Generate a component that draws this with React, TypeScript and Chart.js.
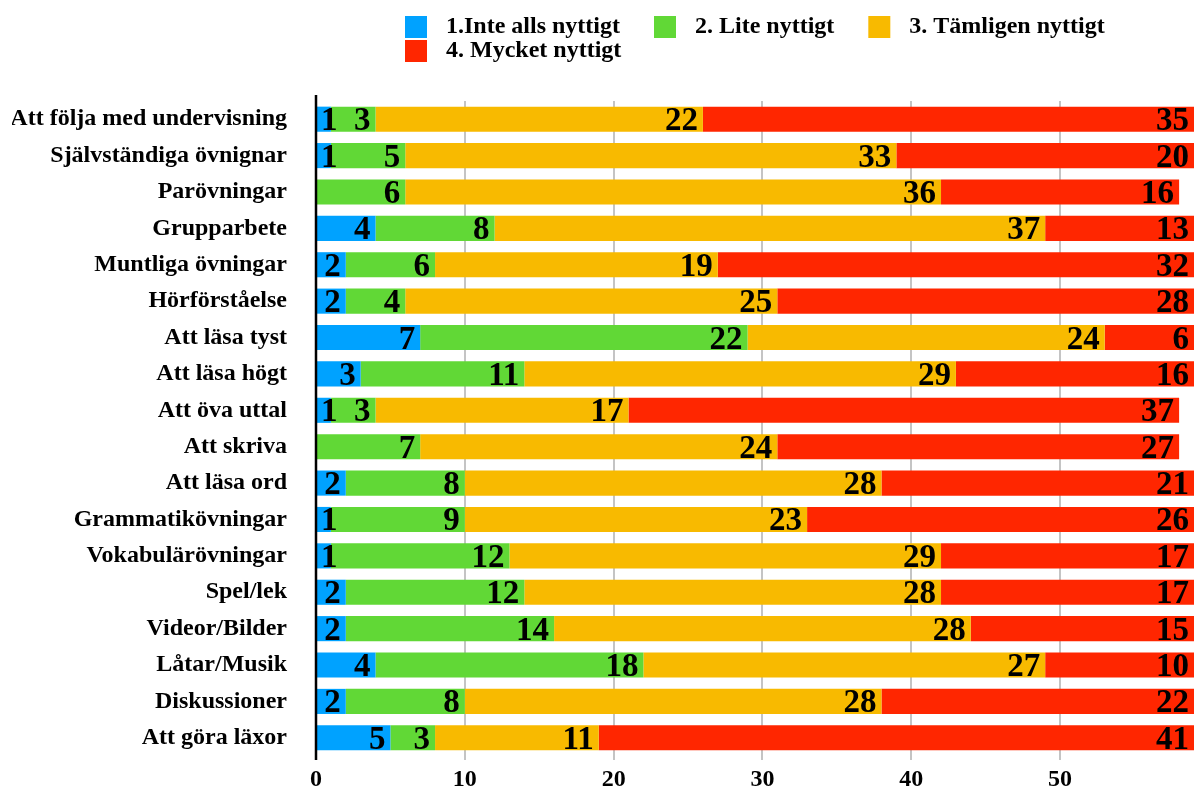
import React, { useEffect, useRef } from "react";
import { Chart, registerables } from "chart.js";

Chart.register(...registerables);

const categories = [
  "Att följa med undervisning",
  "Självständiga övnignar",
  "Parövningar",
  "Grupparbete",
  "Muntliga övningar",
  "Hörförståelse",
  "Att läsa tyst",
  "Att läsa högt",
  "Att öva uttal",
  "Att skriva",
  "Att läsa ord",
  "Grammatikövningar",
  "Vokabulärövningar",
  "Spel/lek",
  "Videor/Bilder",
  "Låtar/Musik",
  "Diskussioner",
  "Att göra läxor",
];

const seriesNames = [
  "1.Inte alls nyttigt",
  "2. Lite nyttigt",
  "3. Tämligen nyttigt",
  "4. Mycket nyttigt",
];

const inteAlls = [1, 1, 0, 4, 2, 2, 7, 3, 1, 0, 2, 1, 1, 2, 2, 4, 2, 5];
const lite = [3, 5, 6, 8, 6, 4, 22, 11, 3, 7, 8, 9, 12, 12, 14, 18, 8, 3];
const tamligen = [22, 33, 36, 37, 19, 25, 24, 29, 17, 24, 28, 23, 29, 28, 28, 27, 28, 11];
const mycket = [35, 20, 16, 13, 32, 28, 6, 16, 37, 27, 21, 26, 17, 17, 15, 10, 22, 41];

const colors = ["#00A2FF", "#61D836", "#F8BA00", "#FF2600"];

const xMin = 0;
const xMax = 59;
const xStep = 10;

const FONT = "'Liberation Serif', 'Times New Roman', serif";

const legendPlugin = {
  id: "customLegend",
  afterDraw(chart: any) {
    const ctx = chart.ctx;
    const datasets = chart.data.datasets;
    ctx.save();
    ctx.font = `bold 24px ${FONT}`;
    ctx.textBaseline = "alphabetic";
    ctx.textAlign = "left";
    const startX = 405;
    const box = 22;
    const boxGap = 19;
    const itemGap = 34;
    const perRow = 3;
    const rowH = 24;
    let x = startX;
    let y = 16;
    datasets.forEach((ds: any, i: number) => {
      if (i > 0 && i % perRow === 0) {
        x = startX;
        y += rowH;
      }
      ctx.fillStyle = ds.backgroundColor;
      ctx.fillRect(x, y, box, box);
      ctx.fillStyle = "#000";
      ctx.fillText(ds.label, x + box + boxGap, y + 16.5);
      const w = ctx.measureText(ds.label).width;
      x += box + boxGap + w + itemGap;
    });
    ctx.restore();
  },
};

const labelPlugin = {
  id: "segmentLabels",
  afterDatasetsDraw(chart: any) {
    const ctx = chart.ctx;
    const area = chart.chartArea;
    ctx.save();
    ctx.font = `bold 33px ${FONT}`;
    ctx.fillStyle = "#000";
    ctx.textAlign = "right";
    ctx.textBaseline = "alphabetic";
    chart.data.datasets.forEach((ds: any, i: number) => {
      const meta = chart.getDatasetMeta(i);
      meta.data.forEach((bar: any, j: number) => {
        const v = ds.data[j];
        if (!v) return;
        const start = Math.max(bar.base, area.left);
        const end = Math.min(bar.x, area.right);
        const text = String(v);
        const w = ctx.measureText(text).width;
        let xr = end - 5;
        if (xr - w < start + 4) xr = start + 4 + w;
        ctx.fillText(text, xr, bar.y + 11);
      });
    });
    ctx.strokeStyle = "#000";
    ctx.lineWidth = 2.5;
    ctx.beginPath();
    ctx.moveTo(area.left, area.top - 6);
    ctx.lineTo(area.left, area.bottom + 4);
    ctx.stroke();
    ctx.restore();
  },
};

export default function App() {
  const ref = useRef<HTMLCanvasElement | null>(null);
  useEffect(() => {
    document.body.style.margin = "0";
    if (!ref.current) return;
    const series = [inteAlls, lite, tamligen, mycket];
    const chart = new Chart(ref.current, {
      type: "bar",
      data: {
        labels: categories,
        datasets: series.map((d, i) => ({
          label: seriesNames[i],
          data: d,
          backgroundColor: colors[i],
          borderWidth: 0,
          categoryPercentage: 1,
          barPercentage: 0.69,
        })),
      },
      options: {
        indexAxis: "y",
        responsive: false,
        animation: false,
        layout: { padding: { left: 12, top: 101, right: 2, bottom: 0 } },
        plugins: {
          legend: { display: false },
          tooltip: { enabled: false },
        },
        scales: {
          x: {
            stacked: true,
            min: xMin,
            max: xMax,
            border: { display: false },
            grid: {
              color: "#c4c4c4",
              lineWidth: 2,
              tickLength: 4,
            },
            ticks: {
              stepSize: xStep,
              includeBounds: false,
              color: "#000",
              padding: 5,
              font: { family: FONT, size: 24, weight: "bold" },
            },
            afterFit: (scale: any) => {
              scale.height = 31;
              scale.paddingLeft = 0;
              scale.paddingRight = 0;
            },
          },
          y: {
            stacked: true,
            border: { display: false },
            grid: { display: false },
            ticks: {
              color: "#000",
              padding: 21,
              font: { family: FONT, size: 24, weight: "bold" },
            },
            afterFit: (scale: any) => {
              scale.width = 304;
              scale.paddingTop = 0;
              scale.paddingBottom = 0;
            },
          },
        },
      } as any,
      plugins: [legendPlugin, labelPlugin],
    });
    return () => chart.destroy();
  }, []);
  return (
    <div style={{ width: 1196, height: 787 }}>
      <canvas ref={ref} width={1196} height={787} />
    </div>
  );
}
